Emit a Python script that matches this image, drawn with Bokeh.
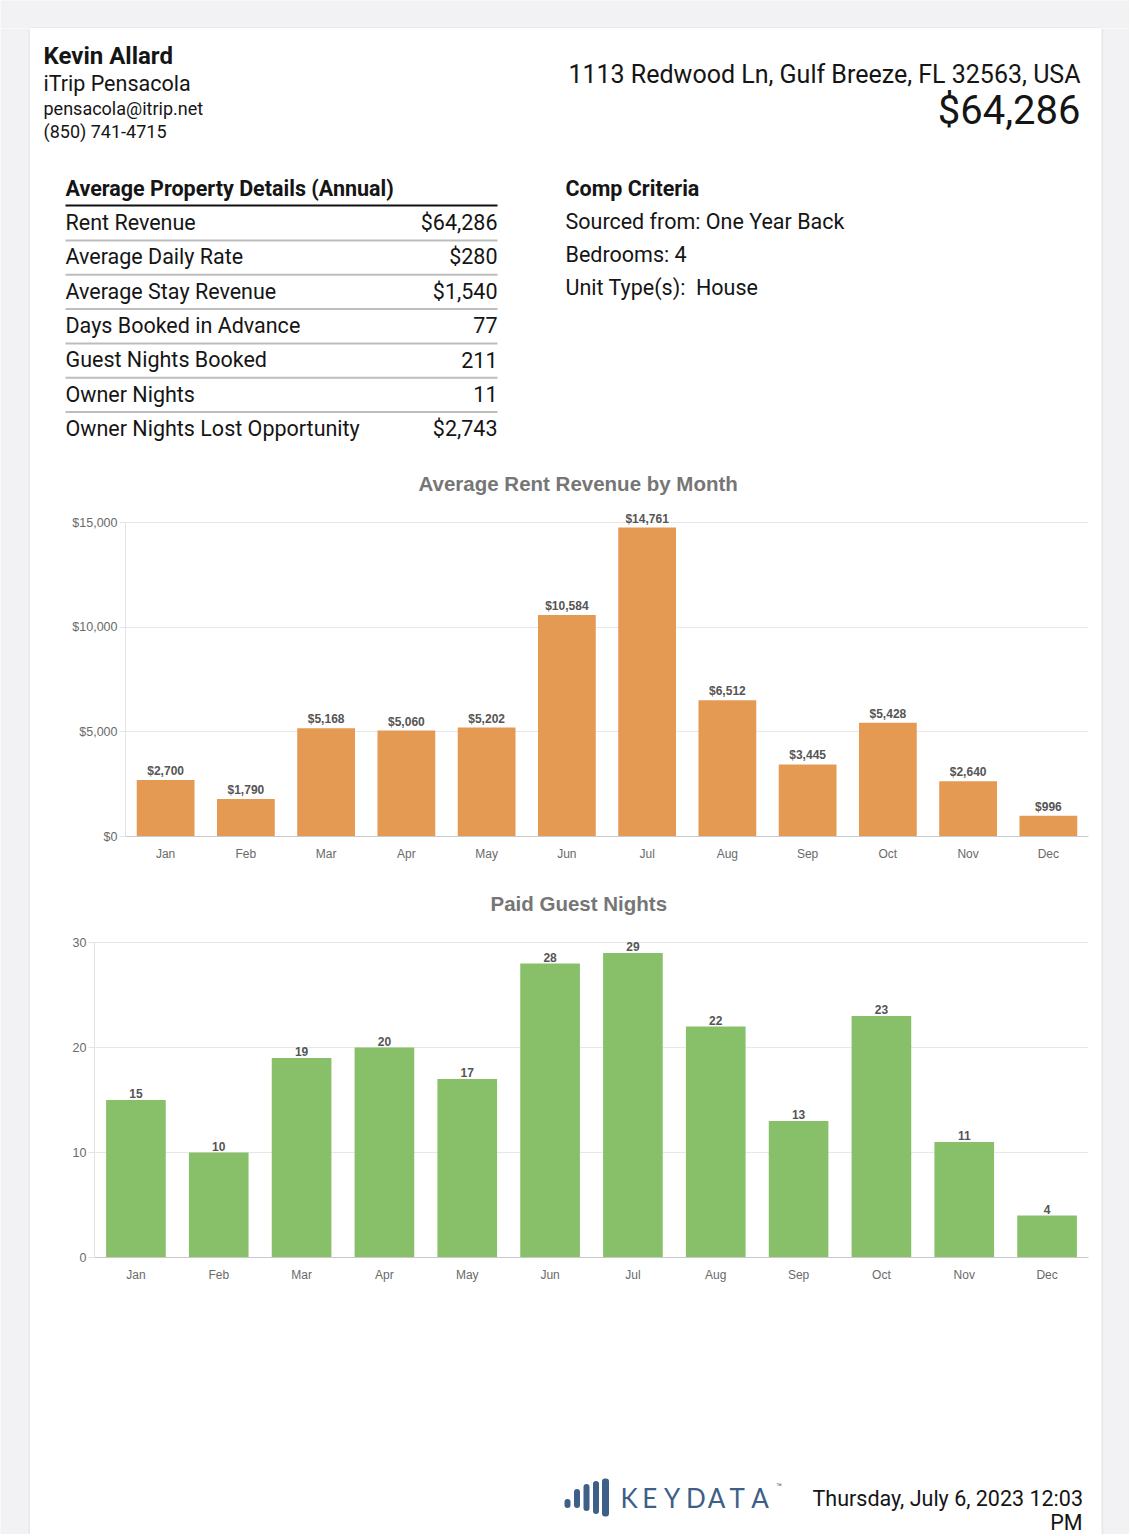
from bokeh.plotting import figure
from bokeh.layouts import column, row
from bokeh.models import Range1d, FactorRange, NumeralTickFormatter, FixedTicker
from bokeh.embed import file_html
from bokeh.resources import INLINE
from bokeh.core.properties import value

# ---------------- data ----------------
agent_name = "Kevin Allard"
agent_company = "iTrip Pensacola"
agent_email = "pensacola@itrip.net"
agent_phone = "(850) 741-4715"
address = "1113 Redwood Ln, Gulf Breeze, FL 32563, USA"
headline_value = "$64,286"

detail_labels = ["Rent Revenue", "Average Daily Rate", "Average Stay Revenue",
                 "Days Booked in Advance", "Guest Nights Booked", "Owner Nights",
                 "Owner Nights Lost Opportunity"]
detail_values = ["$64,286", "$280", "$1,540", "77", "211", "11", "$2,743"]

criteria = ["Sourced from: One Year Back", "Bedrooms: 4", "Unit Type(s):\u00a0 House"]

months = ["Jan", "Feb", "Mar", "Apr", "May", "Jun", "Jul", "Aug", "Sep", "Oct", "Nov", "Dec"]
revenue = [2700, 1790, 5168, 5060, 5202, 10584, 14761, 6512, 3445, 5428, 2640, 996]
revenue_ticks = [0, 5000, 10000, 15000]
nights = [15, 10, 19, 20, 17, 28, 29, 22, 13, 23, 11, 4]
nights_ticks = [0, 10, 20, 30]

footer_date = "Thursday, July 6, 2023 12:03"
footer_pm = "PM"
logo_letters = list("KEYDATA")

# ---------------- styles ----------------
PAGE_GRAY = "#f2f2f4"
INK = "#151515"
ORANGE = "#e59a53"
GREEN = "#87c069"
CHART_FONT = "Liberation Sans"
HDR_FONT = "Roboto"
CARD_W = 1071


def blank(w, h, bg="white"):
    p = figure(width=w, height=h, x_range=Range1d(0, w), y_range=Range1d(h, 0),
               x_axis_type=None, y_axis_type=None, output_backend="svg",
               toolbar_location=None, min_border=0, frame_align=False)
    p.grid.visible = False
    p.outline_line_color = None
    p.background_fill_color = bg
    p.border_fill_color = bg
    return p


def txt(p, x, y, s, size, bold=False, align="left", color=INK, font=HDR_FONT):
    p.text(x=[x], y=[y], text=[s], text_font=value(font), text_font_size=size,
           text_font_style="bold" if bold else "normal", text_align=align,
           text_baseline="middle", text_color=color)


# ---------------- page frame ----------------
top_strip = blank(1129, 28, PAGE_GRAY)
top_strip.segment(x0=[30], x1=[1101], y0=[27.5], y1=[27.5], line_color="#e2e2e4", line_width=1)
left_strip = blank(30, 1506, PAGE_GRAY)
left_strip.segment(x0=[29.5], x1=[29.5], y0=[0], y1=[1506], line_color="#e0e0e2", line_width=1)
left_strip.segment(x0=[28.5], x1=[28.5], y0=[0], y1=[1506], line_color="#e9e9eb", line_width=1)
right_strip = blank(28, 1506, PAGE_GRAY)
right_strip.segment(x0=[0.5], x1=[0.5], y0=[0], y1=[1506], line_color="#e0e0e2", line_width=1)
right_strip.segment(x0=[1.5], x1=[1.5], y0=[0], y1=[1506], line_color="#e9e9eb", line_width=1)

# ---------------- header ----------------
hdr = blank(CARD_W, 427)
txt(hdr, 13, 27, agent_name, "24px", bold=True)
txt(hdr, 13, 55, agent_company, "21.5px")
txt(hdr, 13, 80, agent_email, "18px")
txt(hdr, 13, 103, agent_phone, "18px")
txt(hdr, 1050, 46, address, "25px", align="right")
txt(hdr, 1050, 82, headline_value, "40px", align="right")

txt(hdr, 35, 160, "Average Property Details (Annual)", "21.5px", bold=True)
hdr.segment(x0=[35], x1=[467], y0=[177], y1=[177], line_color="#111111", line_width=2)
row_h = 34.3
for i, (lab, val) in enumerate(zip(detail_labels, detail_values)):
    yc = 194 + i * row_h
    txt(hdr, 35, yc, lab, "21.5px")
    txt(hdr, 467, yc, val, "21.5px", align="right")
    if i < len(detail_labels) - 1:
        hdr.segment(x0=[35], x1=[467], y0=[yc + 18], y1=[yc + 18], line_color="#bdbdbd", line_width=2)

txt(hdr, 535, 160, "Comp Criteria", "21.5px", bold=True)
for i, c in enumerate(criteria):
    txt(hdr, 535, 193 + i * 33, c, "21.5px")


# ---------------- bar charts ----------------
def bar_chart(height, border_left, border_top, border_bottom, y_end, vals, labels, ticks,
              color, title, title_offset, standoff, fmt=None):
    p = figure(width=CARD_W, height=height, x_range=FactorRange(*months, range_padding=0),
               y_range=Range1d(0, y_end), output_backend="svg", toolbar_location=None,
               min_border_left=border_left, min_border_right=13,
               min_border_top=border_top, min_border_bottom=border_bottom,
               frame_align=False)
    p.outline_line_color = None
    p.background_fill_color = "white"
    p.border_fill_color = "white"
    p.title.text = title
    p.title.align = "left"
    p.title.offset = title_offset
    p.title.text_font = CHART_FONT
    p.title.text_font_size = "20.5px"
    p.title.text_font_style = "bold"
    p.title.text_color = "#767676"
    p.title.standoff = standoff

    p.vbar(x=months, top=vals, width=0.72, fill_color=color, line_color=None)
    p.text(x=months, y=vals, text=labels, y_offset=-2, text_align="center",
           text_baseline="bottom", text_font=value(CHART_FONT), text_font_size="12px",
           text_font_style="bold", text_color="#555555")

    p.xgrid.grid_line_color = None
    p.ygrid.grid_line_color = "#e7e7e7"
    p.ygrid.ticker = FixedTicker(ticks=ticks)
    p.yaxis.ticker = FixedTicker(ticks=ticks)
    if fmt:
        p.yaxis.formatter = NumeralTickFormatter(format=fmt)
    p.yaxis.bounds = (ticks[0], ticks[-1])
    p.yaxis.axis_line_color = "#e3e3e3"
    p.yaxis.major_tick_line_color = "#e3e3e3"
    p.yaxis.major_tick_out = 6
    p.yaxis.major_tick_in = 0
    p.yaxis.minor_tick_line_color = None
    p.yaxis.major_label_standoff = 2
    p.yaxis.major_label_text_font = CHART_FONT
    p.yaxis.major_label_text_font_size = "12.5px"
    p.yaxis.major_label_text_color = "#6a6a6a"

    p.xaxis.axis_line_color = "#c9c9c9"
    p.xaxis.major_tick_line_color = None
    p.xaxis.minor_tick_line_color = None
    p.xaxis.major_label_standoff = 4
    p.xaxis.major_label_text_font = CHART_FONT
    p.xaxis.major_label_text_font_size = "12px"
    p.xaxis.major_label_text_color = "#6a6a6a"
    return p


rev_labels = ["${:,}".format(v) for v in revenue]
# 0 at page y 836, 15000 at page y 522; frame top at page y 505
c1 = bar_chart(420, 95, 50, 39, 15000 * (836 - 505) / (836 - 522), revenue, rev_labels,
               revenue_ticks, ORANGE, "Average Rent Revenue by Month", 293, 22, fmt="$0,0")

night_labels = [str(v) for v in nights]
# 0 at page y 1257, 30 at page y 942; frame top at page y 925
c2 = bar_chart(420, 64, 50, 38, 30 * (1257 - 925) / (1257 - 942), nights, night_labels,
               nights_ticks, GREEN, "Paid Guest Nights", 396, 22)

# ---------------- footer ----------------
ftr = blank(CARD_W, 239)
LOGO = "#3e5f87"
bar_x = [537, 546.5, 556, 565.5, 575]
bar_h = [9, 19, 27, 33, 38]
ftr.rect(x=bar_x, y=[208, 203, 202, 202, 202], width=[6, 6, 6, 6, 7], height=bar_h,
         fill_color=LOGO, line_color=None, border_radius=3)
for i, ch in enumerate(logo_letters):
    ftr.text(x=[590 + i * 21.8], y=[202], text=[ch], text_font=value("Lato"),
             text_font_size="26px", text_baseline="middle", text_align="left",
             text_color=LOGO)
txt(ftr, 746, 191, "\u2122", "9px", color=LOGO)
txt(ftr, 782, 203, footer_date, "21.5px")
txt(ftr, 1052, 227, footer_pm, "21.5px", align="right")

card = column(hdr, c1, c2, ftr, spacing=0)
page = column(top_strip, row(left_strip, card, right_strip, spacing=0), spacing=0)

open("out.html", "w").write(file_html(page, INLINE))
